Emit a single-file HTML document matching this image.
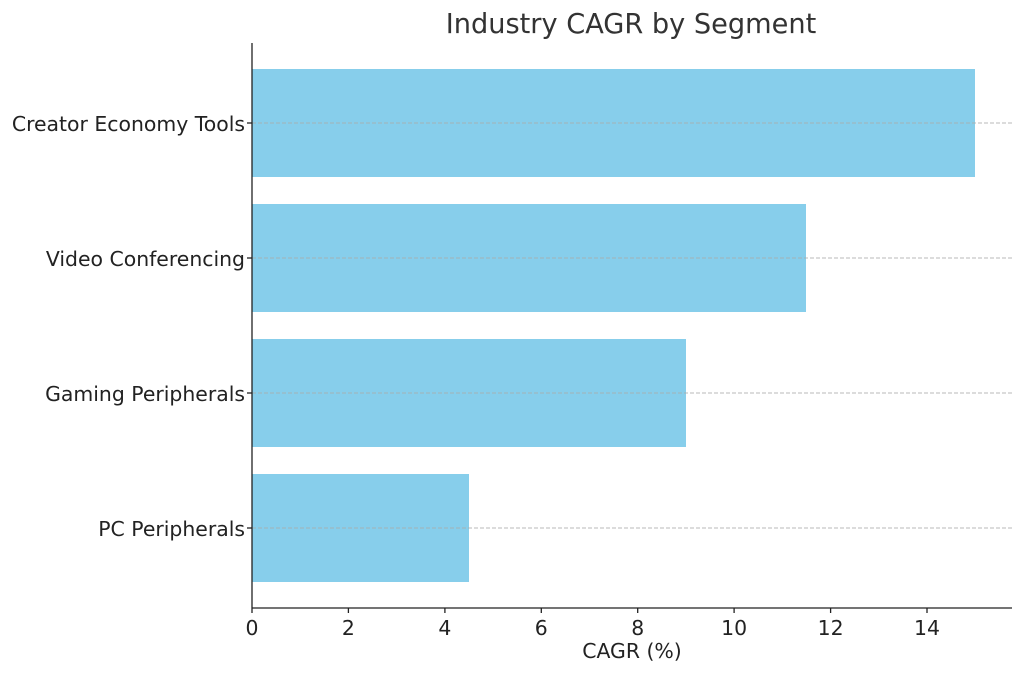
<!DOCTYPE html>
<html><head><meta charset="utf-8"><style>body{margin:0;background:#fff}</style></head><body>
<svg width="1023" height="674" xmlns="http://www.w3.org/2000/svg" font-family="'DejaVu Sans','Liberation Sans',sans-serif">
<rect width="1023" height="674" fill="#fff"/>
<g fill="#87ceeb">
<rect x="252" y="69" width="723" height="108"/>
<rect x="252" y="204" width="554" height="108"/>
<rect x="252" y="339" width="434" height="108"/>
<rect x="252" y="474" width="217" height="108"/>
</g>
<g stroke="#aaaaaa" stroke-width="1" stroke-dasharray="4,2" opacity="0.8">
<line x1="252" x2="1012" y1="123" y2="123"/><line x1="252" x2="1012" y1="258" y2="258"/>
<line x1="252" x2="1012" y1="393" y2="393"/><line x1="252" x2="1012" y1="528" y2="528"/>
</g>
<g stroke="#222" stroke-width="1.3">
<line x1="252" y1="43" x2="252" y2="608"/><line x1="252" y1="608" x2="1012" y2="608"/>
<line x1="247" x2="252" y1="123" y2="123"/><line x1="247" x2="252" y1="258" y2="258"/>
<line x1="247" x2="252" y1="393" y2="393"/><line x1="247" x2="252" y1="528" y2="528"/>
<line x1="252" x2="252" y1="608" y2="613"/><line x1="348.4" x2="348.4" y1="608" y2="613"/>
<line x1="444.9" x2="444.9" y1="608" y2="613"/><line x1="541.3" x2="541.3" y1="608" y2="613"/>
<line x1="637.7" x2="637.7" y1="608" y2="613"/><line x1="734.1" x2="734.1" y1="608" y2="613"/>
<line x1="830.6" x2="830.6" y1="608" y2="613"/><line x1="927" x2="927" y1="608" y2="613"/>
</g>
<g fill="#222" font-size="20.4" text-anchor="end">
<text x="245" y="131">Creator Economy Tools</text>
<text x="245" y="266">Video Conferencing</text>
<text x="245" y="401">Gaming Peripherals</text>
<text x="245" y="536">PC Peripherals</text>
</g>
<g fill="#222" font-size="20.4" text-anchor="middle">
<text x="252" y="635">0</text><text x="348.4" y="635">2</text><text x="444.9" y="635">4</text>
<text x="541.3" y="635">6</text><text x="637.7" y="635">8</text><text x="734.1" y="635">10</text>
<text x="830.6" y="635">12</text><text x="927" y="635">14</text>
<text x="632" y="658">CAGR (%)</text>
</g>
<text x="631" y="33" font-size="27.2" fill="#333" text-anchor="middle">Industry CAGR by Segment</text>
</svg>
</body></html>
